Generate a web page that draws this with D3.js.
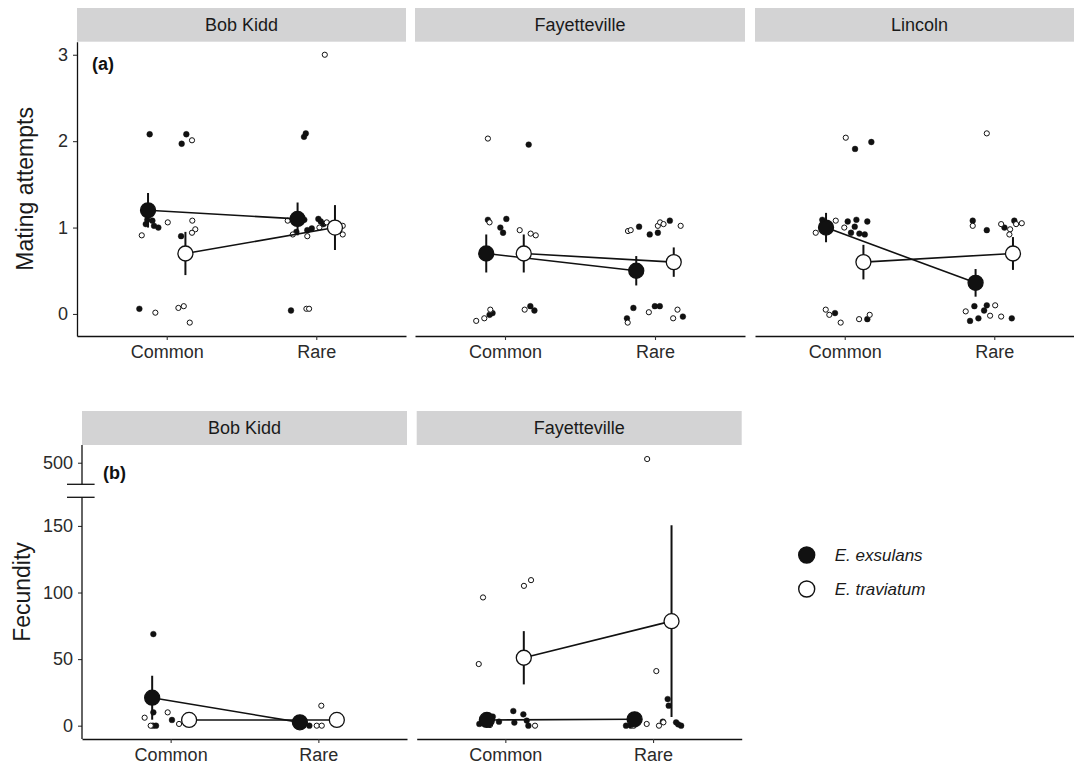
<!DOCTYPE html>
<html>
<head>
<meta charset="utf-8">
<script src="https://cdn.jsdelivr.net/npm/d3@7"></script>
<style>
	body { margin: 0; background: #fff; }
	svg { font-family: "Liberation Sans", Arial, sans-serif; }
</style>
</head>
<body>
<svg id="chart"></svg>
<script>
const frequencies = ["Common", "Rare"];
const species = ["E. exsulans", "E. traviatum"];
const matingSites = ["Bob Kidd", "Fayetteville", "Lincoln"];
const fecunditySites = ["Bob Kidd", "Fayetteville"];
const matingTicks = [0, 1, 2, 3];
const fecundityTicks = [0, 50, 100, 150, 500];
const fecundityBreak = [171.5, 354]; // values swallowed by the axis break

// [site, species index, frequency, mean, se]
const matingMeans = [
	["Bob Kidd", 0, "Common", 1.2, 0.2], ["Bob Kidd", 0, "Rare", 1.1, 0.19],
	["Bob Kidd", 1, "Common", 0.7, 0.25], ["Bob Kidd", 1, "Rare", 1.0, 0.26],
	["Fayetteville", 0, "Common", 0.7, 0.22], ["Fayetteville", 0, "Rare", 0.5, 0.17],
	["Fayetteville", 1, "Common", 0.7, 0.22], ["Fayetteville", 1, "Rare", 0.6, 0.17],
	["Lincoln", 0, "Common", 1.0, 0.17], ["Lincoln", 0, "Rare", 0.36, 0.16],
	["Lincoln", 1, "Common", 0.6, 0.2], ["Lincoln", 1, "Rare", 0.7, 0.19],
];
const fecundityMeans = [
	["Bob Kidd", 0, "Common", 21, 16.5], ["Bob Kidd", 0, "Rare", 2.5, 0.5],
	["Bob Kidd", 1, "Common", 4.3, 1.2], ["Bob Kidd", 1, "Rare", 4.3, 1.2],
	["Fayetteville", 0, "Common", 4.3, 1.5], ["Fayetteville", 0, "Rare", 4.8, 1.5],
	["Fayetteville", 1, "Common", 51, 20], ["Fayetteville", 1, "Rare", 78.5, 72],
];

// raw observations: [species index, frequency, jitter (in category steps), value]
const bobKiddMating = [
	[0,"Common",-0.114,2.08],[0,"Common",-0.183,0.06],[0,"Common",0.100,1.97],[0,"Common",0.131,2.08],
	[0,"Common",0.096,0.90],[0,"Common",-0.14,1.04],[0,"Common",-0.096,1.08],[0,"Common",-0.085,1.02],
	[0,"Common",-0.056,1.0],[0,"Common",-0.13,1.09],
	[1,"Common",-0.167,0.91],[1,"Common",0.007,1.06],[1,"Common",0.169,2.01],[1,"Common",0.171,1.08],
	[1,"Common",0.191,0.98],[1,"Common",0.169,0.94],[1,"Common",-0.076,0.015],[1,"Common",0.078,0.07],
	[1,"Common",0.114,0.09],[1,"Common",0.154,-0.10],
	[0,"Rare",-0.169,0.04],[0,"Rare",-0.082,2.05],[0,"Rare",-0.070,2.09],[0,"Rare",-0.133,0.95],
	[0,"Rare",-0.060,0.97],[0,"Rare",-0.030,0.99],[0,"Rare",0.014,1.10],[0,"Rare",0.030,1.07],
	[0,"Rare",0.048,1.04],[0,"Rare",-0.097,1.11],[0,"Rare",-0.08,1.09],
	[1,"Rare",0.057,3.0],[1,"Rare",-0.191,1.08],[1,"Rare",-0.157,0.92],[1,"Rare",-0.060,0.90],
	[1,"Rare",-0.066,0.06],[1,"Rare",-0.048,0.06],[1,"Rare",0.070,1.06],[1,"Rare",0.021,1.0],
	[1,"Rare",0.177,1.02],[1,"Rare",0.177,0.92],
];
const fayettevilleMating = [
	[0,"Common",0.158,1.96],[0,"Common",-0.114,1.09],[0,"Common",0.009,1.10],[0,"Common",-0.031,1.0],
	[0,"Common",-0.013,0.94],[0,"Common",0.169,0.09],[0,"Common",0.196,0.04],[0,"Common",-0.083,0.01],
	[0,"Common",-0.103,-0.01],
	[1,"Common",-0.114,2.03],[1,"Common",-0.103,1.06],[1,"Common",0.098,0.97],[1,"Common",0.171,0.93],
	[1,"Common",0.205,0.91],[1,"Common",-0.192,-0.08],[1,"Common",-0.138,-0.05],[1,"Common",-0.098,0.05],
	[1,"Common",0.131,0.05],
	[0,"Rare",-0.106,1.01],[0,"Rare",-0.035,0.92],[0,"Rare",0.019,0.94],[0,"Rare",0.099,1.08],
	[0,"Rare",-0.144,0.07],[0,"Rare",-0.001,0.09],[0,"Rare",0.032,0.09],[0,"Rare",0.186,-0.03],
	[0,"Rare",-0.187,-0.05],
	[1,"Rare",-0.180,0.96],[1,"Rare",-0.162,0.97],[1,"Rare",0.019,1.02],[1,"Rare",0.034,1.06],
	[1,"Rare",0.057,1.04],[1,"Rare",0.171,1.02],[1,"Rare",-0.182,-0.10],[1,"Rare",-0.041,0.02],
	[1,"Rare",0.121,-0.05],[1,"Rare",0.150,0.05],
];
const lincolnMating = [
	[0,"Common",0.069,1.91],[0,"Common",0.178,1.99],[0,"Common",-0.150,1.09],[0,"Common",0.020,1.07],
	[0,"Common",0.078,1.09],[0,"Common",0.151,1.07],[0,"Common",0.067,1.01],[0,"Common",0.042,0.94],
	[0,"Common",0.098,0.93],[0,"Common",0.134,0.92],[0,"Common",-0.065,0.01],[0,"Common",0.151,-0.06],
	[1,"Common",0.007,2.04],[1,"Common",-0.194,0.94],[1,"Common",-0.060,1.08],[1,"Common",-0.003,1.0],
	[1,"Common",-0.127,0.05],[1,"Common",-0.103,-0.01],[1,"Common",-0.027,-0.10],[1,"Common",0.096,-0.06],
	[1,"Common",0.167,-0.01],
	[0,"Rare",-0.144,1.08],[0,"Rare",-0.050,0.97],[0,"Rare",0.068,1.0],[0,"Rare",0.134,1.08],
	[0,"Rare",-0.133,0.09],[0,"Rare",-0.050,0.10],[0,"Rare",-0.068,0.04],[0,"Rare",-0.162,-0.08],
	[0,"Rare",-0.106,-0.05],[0,"Rare",0.117,-0.05],
	[1,"Rare",-0.050,2.09],[1,"Rare",-0.144,1.02],[1,"Rare",0.046,1.04],[1,"Rare",0.106,0.98],
	[1,"Rare",0.101,0.92],[1,"Rare",0.146,1.04],[1,"Rare",0.184,1.05],[1,"Rare",-0.191,0.03],
	[1,"Rare",-0.028,-0.02],[1,"Rare",0.006,0.10],[1,"Rare",0.046,-0.03],
];
const bobKiddFecundity = [
	[0,"Common",-0.117,68.8],[0,"Common",-0.117,10],[0,"Common",0.009,4.3],[0,"Common",-0.099,0],[0,"Common",-0.12,0],
	[1,"Common",-0.176,6],[1,"Common",-0.02,10],[1,"Common",0.057,1.3],[1,"Common",-0.135,0],
	[0,"Rare",-0.061,0],[0,"Rare",-0.153,2],[0,"Rare",-0.102,0.5],
	[1,"Rare",0.02,15],[1,"Rare",-0.011,0],[1,"Rare",0.023,0],
];
const fayettevilleFecundity = [
	[0,"Common",-0.138,5],[0,"Common",-0.12,7],[0,"Common",-0.1,4],[0,"Common",0.054,11],[0,"Common",0.122,8.5],
	[0,"Common",-0.043,3],[0,"Common",0.061,2.3],[0,"Common",0.145,3.8],[0,"Common",0.156,0],[0,"Common",-0.176,1.3],
	[0,"Common",-0.115,7.3],[0,"Common",-0.085,6.8],[0,"Common",-0.13,1.5],
	[1,"Common",-0.151,96.3],[1,"Common",0.126,105],[1,"Common",0.174,109.3],[1,"Common",-0.180,46.3],
	[1,"Common",0.201,0],[1,"Common",-0.104,0.5],
	[0,"Rare",0.099,20],[0,"Rare",0.106,15],[0,"Rare",0.066,3],[0,"Rare",0.156,2.5],[0,"Rare",0.19,0],
	[0,"Rare",-0.183,0],[0,"Rare",-0.15,0],[0,"Rare",0.17,1],
	[1,"Rare",-0.04,525],[1,"Rare",0.022,41],[1,"Rare",-0.043,1.3],[1,"Rare",0.04,0],[1,"Rare",0.07,2.5],[1,"Rare",-0.13,0],
];

const W = 1074, H = 766;
const ink = "#111";
const svg = d3.select("#chart").attr("width", W).attr("height", H);

// layout
const topRow = { stripTop: 8, top: 41.7, bottom: 336 };
const bottomRow = { stripTop: 411, top: 445, bottom: 739 };
const topCols = [[77, 406], [415, 745], [755, 1084]];
const bottomCols = [[82, 407], [416.7, 741.7]];

const yMating = d3.scaleLinear([-0.255, 3.151], [topRow.bottom, topRow.top]);
const yFecundity = d3.scaleLinear([-10, fecundityBreak[0], fecundityBreak[1], 620],
                                  [bottomRow.bottom, 497.3, 484.3, bottomRow.top]);

function styleAxis(g) {
	g.selectAll(".domain").attr("stroke", ink).attr("stroke-width", 1.3);
	g.selectAll(".tick line").attr("stroke", "#333").attr("stroke-width", 1.1);
	g.selectAll(".tick text").attr("font-size", 18).attr("fill", "#2a2a2a");
	g.attr("font-family", null);
}

function drawPanel({ left, right, row, site, means, points, y }) {
	const x = d3.scalePoint(frequencies, [left, right]).padding(0.6);
	const step = x.step();
	const g = svg.append("g");

	// strip
	g.append("rect")
	 .attr("x", left).attr("y", row.stripTop)
	 .attr("width", right - left).attr("height", row.top - row.stripTop)
	 .attr("fill", "#d3d3d4");
	g.append("text")
	 .attr("x", (left + right) / 2).attr("y", (row.stripTop + row.top) / 2)
	 .attr("dy", "0.36em").attr("text-anchor", "middle")
	 .attr("font-size", 18).attr("fill", "#1a1a1a")
	 .text(site);

	g.append("g")
	 .attr("transform", `translate(0,${row.bottom})`)
	 .call(d3.axisBottom(x).tickSize(4).tickPadding(5).tickSizeOuter(0))
	 .call(styleAxis);

	// raw observations
	g.append("g")
	 .selectAll("circle")
	 .data(points)
	 .join("circle")
	 .attr("cx", d => x(d[1]) + d[2] * step)
	 .attr("cy", d => y(d[3]))
	 .attr("r", d => d[0] ? 2.6 : 2.9)
	 .attr("fill", d => d[0] ? "#fff" : ink)
	 .attr("stroke", ink)
	 .attr("stroke-width", d => d[0] ? 1 : 0.4);

	// means, dodged per species
	const dodge = [-0.125, 0.125];
	const mx = d => x(d[2]) + dodge[d[1]] * step;
	const siteMeans = means.filter(d => d[0] === site);

	species.forEach((s, i) => {
		g.append("path")
		 .datum(siteMeans.filter(d => d[1] === i))
		 .attr("fill", "none")
		 .attr("stroke", ink)
		 .attr("stroke-width", 1.6)
		 .attr("d", d3.line().x(mx).y(d => y(d[3])));
	});

	g.append("g")
	 .selectAll("line")
	 .data(siteMeans)
	 .join("line")
	 .attr("x1", mx).attr("x2", mx)
	 .attr("y1", d => y(d[3] - d[4]))
	 .attr("y2", d => y(d[3] + d[4]))
	 .attr("stroke", ink)
	 .attr("stroke-width", 2);

	g.append("g")
	 .selectAll("circle")
	 .data(siteMeans)
	 .join("circle")
	 .attr("cx", mx)
	 .attr("cy", d => y(d[3]))
	 .attr("r", 7.5)
	 .attr("fill", d => d[1] ? "#fff" : ink)
	 .attr("stroke", ink)
	 .attr("stroke-width", 1.3);
}

// (a) mating attempts
const matingPoints = [bobKiddMating, fayettevilleMating, lincolnMating];
matingSites.forEach((site, i) => {
	drawPanel({ left: topCols[i][0], right: topCols[i][1], row: topRow, site,
	            means: matingMeans, points: matingPoints[i], y: yMating });
});

svg.append("g")
   .attr("transform", `translate(${topCols[0][0]},0)`)
   .call(d3.axisLeft(yMating).tickValues(matingTicks).tickFormat(d3.format("d"))
           .tickSize(4).tickPadding(5).tickSizeOuter(0))
   .call(styleAxis);

// (b) fecundity
const fecundityPoints = [bobKiddFecundity, fayettevilleFecundity];
fecunditySites.forEach((site, i) => {
	drawPanel({ left: bottomCols[i][0], right: bottomCols[i][1], row: bottomRow, site,
	            means: fecundityMeans, points: fecundityPoints[i], y: yFecundity });
});

const fx = bottomCols[0][0];
const fAxis = svg.append("g")
   .attr("transform", `translate(${fx},0)`)
   .call(d3.axisLeft(yFecundity).tickValues(fecundityTicks).tickFormat(d3.format("d"))
           .tickSize(4).tickPadding(5).tickSizeOuter(0))
   .call(styleAxis)
   .call(g => g.select(".domain").remove());

// broken axis line
const segments = [[yFecundity.domain()[0], fecundityBreak[0]], [fecundityBreak[1], yFecundity.domain()[3]]];
fAxis.selectAll("line.seg")
     .data(segments)
     .join("line")
     .attr("class", "seg")
     .attr("x1", 0).attr("x2", 0)
     .attr("y1", d => yFecundity(d[0]))
     .attr("y2", d => yFecundity(d[1]))
     .attr("stroke", ink).attr("stroke-width", 1.3);
fAxis.selectAll("line.brk")
     .data(fecundityBreak)
     .join("line")
     .attr("class", "brk")
     .attr("x1", -15).attr("x2", 12.6)
     .attr("y1", d => yFecundity(d))
     .attr("y2", d => yFecundity(d))
     .attr("stroke", ink).attr("stroke-width", 1.3);

// titles and panel tags
svg.append("text")
   .attr("transform", `translate(25,${(topRow.top + topRow.bottom) / 2}) rotate(-90)`)
   .attr("dy", "0.36em").attr("text-anchor", "middle")
   .attr("font-size", 23).attr("fill", "#1a1a1a")
   .text("Mating attempts");
svg.append("text")
   .attr("transform", `translate(22,${(bottomRow.top + bottomRow.bottom) / 2}) rotate(-90)`)
   .attr("dy", "0.36em").attr("text-anchor", "middle")
   .attr("font-size", 23).attr("fill", "#1a1a1a")
   .text("Fecundity");

svg.append("text").attr("x", 92).attr("y", 70)
   .attr("font-size", 18).attr("font-weight", "bold").attr("fill", ink).text("(a)");
svg.append("text").attr("x", 103).attr("y", 479)
   .attr("font-size", 18).attr("font-weight", "bold").attr("fill", ink).text("(b)");

// legend
const legend = svg.append("g").attr("transform", "translate(806.7,555)");
const item = legend.selectAll("g")
                   .data(species)
                   .join("g")
                   .attr("transform", (d, i) => `translate(0,${i * 34})`);
item.append("circle")
    .attr("r", 8)
    .attr("fill", (d, i) => i ? "#fff" : ink)
    .attr("stroke", ink)
    .attr("stroke-width", 1.4);
item.append("text")
    .attr("x", 28).attr("dy", "0.36em")
    .attr("font-size", 17).attr("font-style", "italic").attr("fill", "#1a1a1a")
    .text(d => d);
</script>
</body>
</html>
